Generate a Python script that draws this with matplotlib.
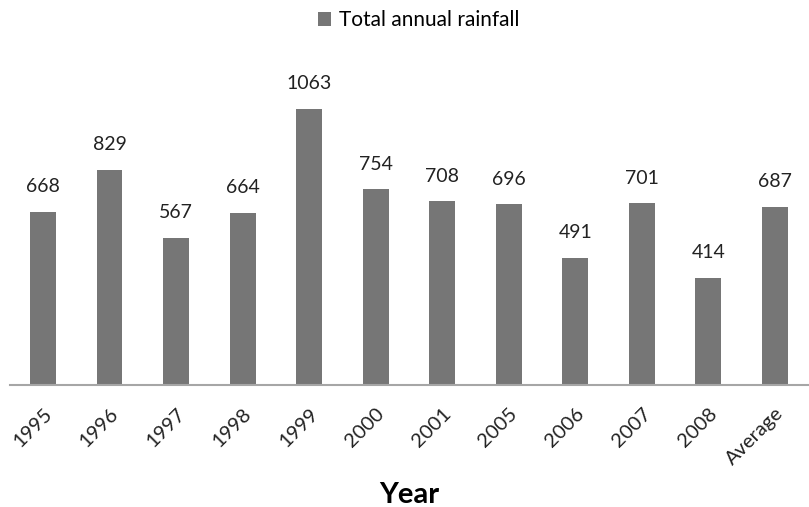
# total annual rainfall per year, with average
import numpy as np
import matplotlib.pyplot as plt

plt.rcParams['font.family'] = ['Lato', 'DejaVu Sans']

years = ['1995', '1996', '1997', '1998', '1999', '2000', '2001', '2005',
         '2006', '2007', '2008', 'Average']
rainfall = [668, 829, 567, 664, 1063, 754, 708, 696, 491, 701, 414, 687]

fig = plt.figure(figsize=(8.09, 5.07), dpi=100)
ax = fig.add_axes([0.012, 0.24, 0.987, 0.615])

x = np.arange(len(years))
bars = ax.bar(x, rainfall, width=0.39, color='#767676', label='Total annual rainfall')

for xi, v in zip(x, rainfall):
    ax.annotate(str(v), (xi, v), xytext=(0, 12), textcoords='offset points',
                ha='center', va='bottom', fontsize=14, color='#222222')

ax.set_xlim(-0.5, len(years) - 0.5)
ax.set_ylim(0, 1200)
ax.set_xticks(x)
ax.set_xticklabels(years, rotation=45, ha='right', rotation_mode='anchor',
                   fontsize=14.5, color='#222222')
ax.tick_params(axis='x', length=0, pad=14)
ax.set_yticks([])
for s in ['top', 'right', 'left']:
    ax.spines[s].set_visible(False)
ax.spines['bottom'].set_color('#a6a6a6')
ax.spines['bottom'].set_linewidth(1.5)

ax.set_xlabel('Year', fontsize=21, fontweight='bold', labelpad=10)

fig.legend(loc='center', bbox_to_anchor=(0.518, 0.96), frameon=False,
           fontsize=15, handlelength=0.6, handleheight=0.6, handletextpad=0.4)

fig.savefig('out.png', dpi=100)
